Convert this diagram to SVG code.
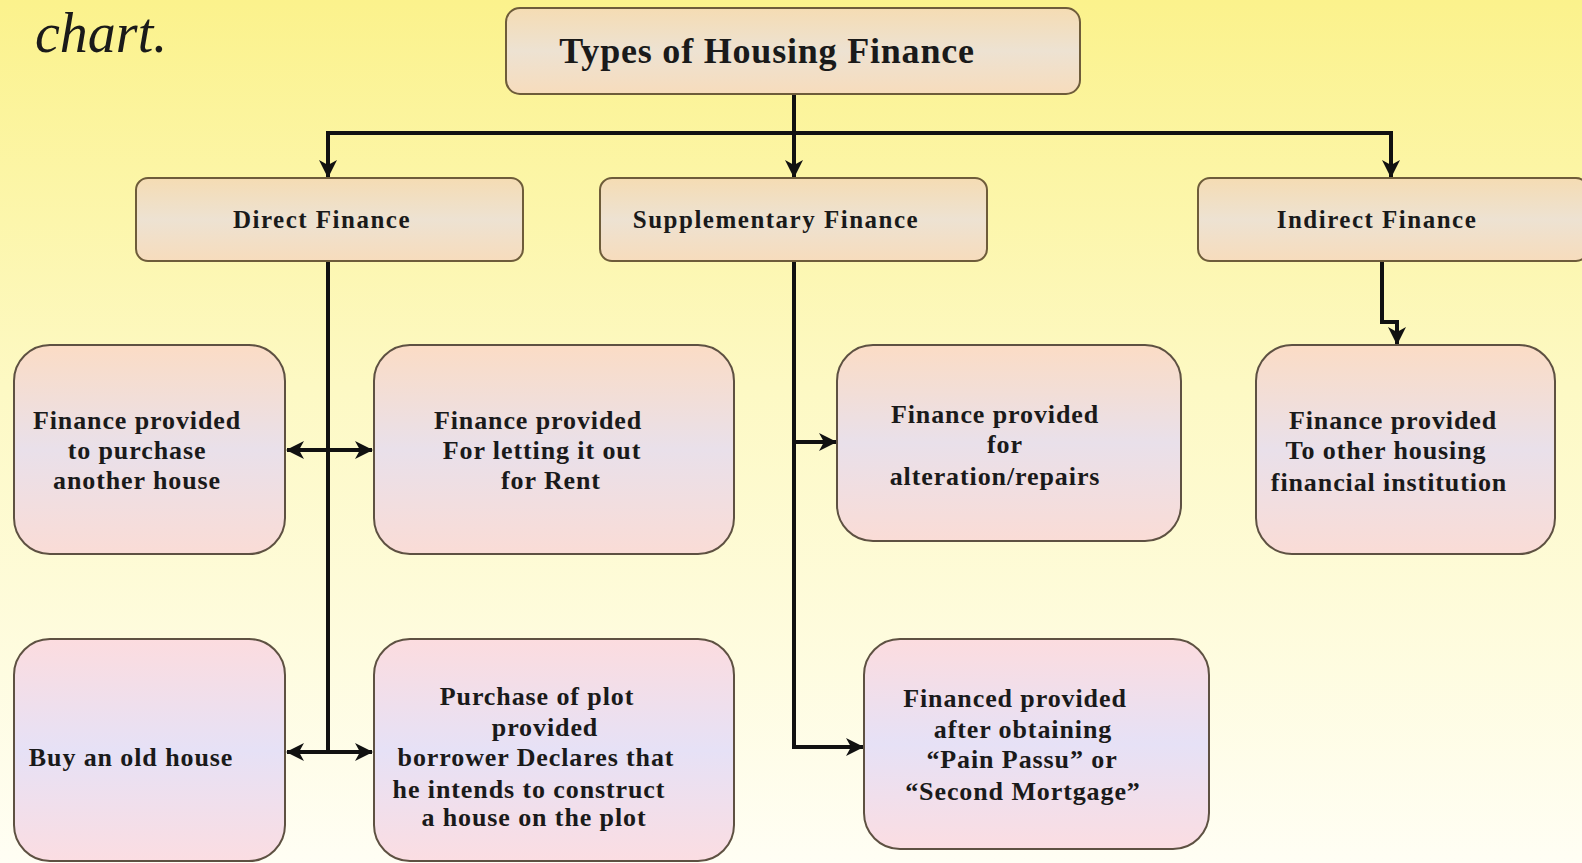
<svg xmlns="http://www.w3.org/2000/svg" width="1582" height="863" viewBox="0 0 1582 863">
<defs>
<linearGradient id="bg" x1="0" y1="0" x2="0" y2="1">
<stop offset="0" stop-color="#fbf28c"/>
<stop offset="0.45" stop-color="#fdf9c4"/>
<stop offset="1" stop-color="#fffef4"/>
</linearGradient>
<linearGradient id="hdr" x1="0" y1="0" x2="0" y2="1">
<stop offset="0" stop-color="#f5dcb3"/>
<stop offset="0.5" stop-color="#ede2d2"/>
<stop offset="1" stop-color="#f7dcbc"/>
</linearGradient>
<linearGradient id="b1" x1="0" y1="0" x2="0" y2="1">
<stop offset="0" stop-color="#fbdcc5"/>
<stop offset="0.5" stop-color="#e9e0ea"/>
<stop offset="1" stop-color="#fadcd6"/>
</linearGradient>
<linearGradient id="b2" x1="0" y1="0" x2="0" y2="1">
<stop offset="0" stop-color="#fcdcdf"/>
<stop offset="0.5" stop-color="#e6e1f6"/>
<stop offset="1" stop-color="#fbdde2"/>
</linearGradient>
<marker id="ah" viewBox="0 0 18 18" refX="17" refY="9" markerWidth="18" markerHeight="18" markerUnits="userSpaceOnUse" orient="auto-start-reverse">
<path d="M0,0 L18,9 L0,18 L5,9 z" fill="#111"/>
</marker>
<style>
.hdr{fill:url(#hdr);stroke:#6e5c3a;stroke-width:2}
.b1{fill:url(#b1);stroke:#5e5142;stroke-width:2}
.b2{fill:url(#b2);stroke:#5e5142;stroke-width:2}
.t{font-family:"Liberation Serif",serif;font-weight:bold;fill:#1a1a1a;text-anchor:middle}
.h{font-size:25px;letter-spacing:1.5px}
.b{font-size:26px;letter-spacing:0.9px}
.c{fill:none;stroke:#111;stroke-width:4}
</style>
</defs>
<rect width="1582" height="863" fill="url(#bg)"/>
<text x="35" y="52" font-family="Liberation Serif, serif" font-style="italic" font-size="56" fill="#1a1a1a">chart.</text>

<g id="connectors">
<line class="c" x1="794" y1="94" x2="794" y2="133"/>
<line class="c" x1="326" y1="133" x2="1393" y2="133"/>
<line class="c" x1="328" y1="133" x2="328" y2="177" marker-end="url(#ah)"/>
<line class="c" x1="794" y1="133" x2="794" y2="177" marker-end="url(#ah)"/>
<line class="c" x1="1391" y1="133" x2="1391" y2="177" marker-end="url(#ah)"/>
<line class="c" x1="328" y1="261" x2="328" y2="752"/>
<line class="c" x1="287" y1="450" x2="372" y2="450" marker-start="url(#ah)" marker-end="url(#ah)"/>
<line class="c" x1="287" y1="752" x2="372" y2="752" marker-start="url(#ah)" marker-end="url(#ah)"/>
<line class="c" x1="794" y1="261" x2="794" y2="747"/>
<line class="c" x1="794" y1="442" x2="836" y2="442" marker-end="url(#ah)"/>
<line class="c" x1="792" y1="747" x2="863" y2="747" marker-end="url(#ah)"/>
<polyline class="c" points="1382,261 1382,322 1397,322 1397,344" marker-end="url(#ah)"/>
</g>

<g id="title">
<rect class="hdr" x="506" y="8" width="574" height="86" rx="14"/>
<text class="t" x="767" y="63" font-size="36" letter-spacing="0.8">Types of Housing Finance</text>
</g>
<g id="direct">
<rect class="hdr" x="136" y="178" width="387" height="83" rx="12"/>
<text class="t h" x="322" y="228">Direct Finance</text>
</g>
<g id="supplementary">
<rect class="hdr" x="600" y="178" width="387" height="83" rx="12"/>
<text class="t h" x="776" y="228">Supplementary Finance</text>
</g>
<g id="indirect">
<rect class="hdr" x="1198" y="178" width="390" height="83" rx="12"/>
<text class="t h" x="1377" y="228">Indirect Finance</text>
</g>

<g id="purchase-another">
<rect class="b1" x="14" y="345" width="271" height="209" rx="36"/>
<text class="t b" x="137" y="429">Finance provided</text>
<text class="t b" x="137" y="459">to purchase</text>
<text class="t b" x="137" y="489">another house</text>
</g>
<g id="letting-out">
<rect class="b1" x="374" y="345" width="360" height="209" rx="36"/>
<text class="t b" x="538" y="429">Finance provided</text>
<text class="t b" x="542" y="459">For letting it out</text>
<text class="t b" x="551" y="489">for Rent</text>
</g>
<g id="alteration">
<rect class="b1" x="837" y="345" width="344" height="196" rx="36"/>
<text class="t b" x="995" y="423">Finance provided</text>
<text class="t b" x="1005" y="453">for</text>
<text class="t b" x="995" y="485">alteration/repairs</text>
</g>
<g id="other-institution">
<rect class="b1" x="1256" y="345" width="299" height="209" rx="36"/>
<text class="t b" x="1393" y="429">Finance provided</text>
<text class="t b" x="1386" y="459">To other housing</text>
<text class="t b" x="1389" y="491">financial institution</text>
</g>
<g id="old-house">
<rect class="b2" x="14" y="639" width="271" height="222" rx="36"/>
<text class="t b" x="131" y="766">Buy an old house</text>
</g>
<g id="plot">
<rect class="b2" x="374" y="639" width="360" height="222" rx="36"/>
<text class="t b" x="537" y="705">Purchase of plot</text>
<text class="t b" x="545" y="736">provided</text>
<text class="t b" x="536" y="766">borrower Declares that</text>
<text class="t b" x="529" y="798">he intends to construct</text>
<text class="t b" x="534" y="826">a house on the plot</text>
</g>
<g id="pari-passu">
<rect class="b2" x="864" y="639" width="345" height="210" rx="36"/>
<text class="t b" x="1015" y="707">Financed provided</text>
<text class="t b" x="1023" y="738">after obtaining</text>
<text class="t b" x="1022" y="768">“Pain Passu” or</text>
<text class="t b" x="1023" y="800">“Second Mortgage”</text>
</g>
</svg>
